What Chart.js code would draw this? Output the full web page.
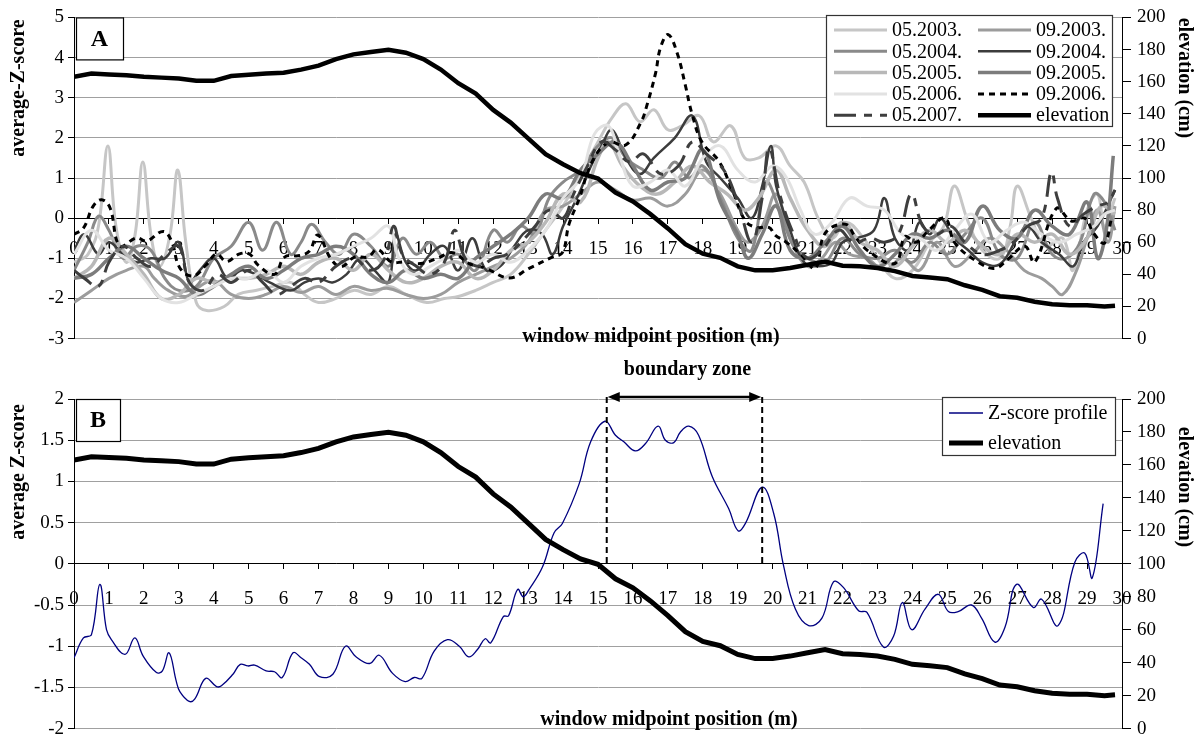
<!DOCTYPE html>
<html>
<head>
<meta charset="utf-8">
<script src="https://cdn.jsdelivr.net/npm/chart.js@4.4.1/dist/chart.umd.min.js"></script>
<style>
html, body { margin: 0; padding: 0; background: #fff; }
#wrap { position: relative; width: 1203px; height: 746px; }
#boxA { position: absolute; left: 0; top: 0; width: 1203px; height: 356px; }
#boxB { position: absolute; left: 0; top: 356px; width: 1203px; height: 390px; }
</style>
</head>
<body>
<div id="wrap">
  <div id="boxA"><canvas id="chartA"></canvas></div>
  <div id="boxB"><canvas id="chartB"></canvas></div>
</div>
<script>
// ---- data ----
const seriesLabels = ["05.2003.", "09.2003.", "05.2004.", "09.2004.", "05.2005.", "09.2005.", "05.2006.", "09.2006.", "05.2007."];

// [position (m), average Z-score]
const may2003 = [[0,-1.1],[0.4,-0.9],[0.7,-0.2],[0.97,1.8],[1.2,-0.2],[1.5,-1.1],[1.75,-0.4],[1.97,1.4],[2.2,-0.4],[2.45,-1.2],[2.75,-0.4],[2.97,1.2],[3.2,-0.6],[3.5,-2.1],[3.8,-2.3],[4.3,-2.2],[4.7,-1.9],[5.2,-1.8],[5.7,-1.7],[6.2,-1.6],[6.6,-1.9],[7.0,-2.1],[7.5,-2.0],[8.0,-1.8],[8.5,-1.9],[9.0,-1.7],[9.5,-1.9],[10.1,-2.1],[10.6,-2.0],[11,-1.95],[11.5,-1.8],[12,-1.6],[12.5,-1.4],[13,-0.9],[13.5,-0.3],[14,0.3],[14.5,1.1],[15,1.9],[15.4,2.5],[15.8,2.85],[16.2,2.4],[16.6,2.7],[17,2.2],[17.4,2.3],[17.9,2.55],[18.3,1.9],[18.8,2.3],[19.2,1.5],[19.6,1.5],[20.1,1.8],[20.5,1.3],[20.9,0.9],[21.3,0.0],[21.7,-0.5],[22.1,-0.1],[22.6,-0.5],[23.0,-1.0],[23.5,-1.5],[24,-1.3],[24.5,-0.6],[24.9,-0.2],[25.2,0.8],[25.6,-0.1],[26,-0.8],[26.5,-1.0],[26.8,-0.2],[27.0,0.8],[27.4,0.0],[27.8,-0.7],[28.3,-0.5],[28.6,-1.3],[29.0,0.2],[29.3,0.6],[29.5,-0.2],[29.8,0.5]];
const sep2003 = [[0,-2.1],[0.5,-1.8],[1,-1.5],[1.5,-1.3],[2,-1.2],[2.3,-1.5],[2.7,-1.8],[3.2,-1.95],[3.6,-1.7],[4,-1.55],[4.5,-1.9],[5,-2.0],[5.5,-1.9],[6,-1.7],[6.5,-1.85],[7,-1.7],[7.5,-1.9],[8,-1.7],[8.5,-1.8],[9,-1.75],[9.5,-1.9],[10,-2.0],[10.5,-1.9],[11,-1.6],[11.5,-1.4],[12,-1.2],[12.5,-1.0],[13,-0.6],[13.5,0.2],[14,0.3],[14.5,0.6],[15,0.9],[15.5,0.7],[16,0.45],[16.5,0.5],[17,0.3],[17.5,0.6],[18,1.2],[18.5,0.6],[19,-0.3],[19.3,-0.6],[19.7,-0.2],[20.1,0.6],[20.5,-0.5],[21,-1.2],[21.4,-1.0],[21.8,-0.6],[22.2,-0.9],[22.7,-1.0],[23.2,-1.3],[23.7,-1.0],[24.2,-1.3],[24.7,-0.6],[25.2,-1.2],[25.7,-0.9],[26.2,-0.5],[26.7,-0.8],[27.2,-1.3],[27.7,-1.5],[28.0,-1.7],[28.3,-1.9],[28.7,-1.3],[29,-0.5],[29.3,0.2],[29.6,-0.6],[29.8,0.3]];
const may2004 = [[0,-1.3],[0.4,-0.6],[0.7,0.05],[1.0,-0.3],[1.4,-1.0],[1.8,-0.7],[2.2,-0.8],[2.6,-1.5],[3,-1.8],[3.5,-1.7],[4,-1.0],[4.5,-0.7],[5,-0.1],[5.4,-0.8],[5.8,-0.1],[6.2,-0.9],[6.5,-0.6],[6.8,-0.15],[7.2,-0.6],[7.6,-0.9],[8,-0.4],[8.5,-0.7],[9,-1.2],[9.4,-0.5],[9.8,-0.9],[10.2,-0.6],[10.6,-1.0],[11,-0.9],[11.5,-1.3],[12,-0.3],[12.4,-0.6],[12.8,-0.2],[13.2,-0.4],[13.6,0.5],[14,0.9],[14.5,1.2],[15,1.8],[15.4,2.0],[15.8,1.5],[16.3,1.2],[16.8,1.0],[17.2,1.4],[17.6,1.0],[18,1.3],[18.5,0.5],[19,-0.5],[19.4,-0.8],[19.8,0.9],[20.2,0.2],[20.6,-0.7],[21,-1.0],[21.5,-1.1],[22,-0.5],[22.5,-0.9],[23,-1.0],[23.5,-0.8],[24,-1.1],[24.5,-0.6],[25,-0.9],[25.5,-0.4],[26,0.0],[26.5,-0.9],[27,-1.0],[27.5,-0.1],[28,-0.9],[28.4,-1.0],[28.8,-0.6],[29.2,0.6],[29.5,0.4],[29.8,-0.3]];
const sep2004 = [[0,-0.8],[0.3,-0.4],[0.7,-0.9],[1,-0.6],[1.4,-0.9],[1.8,-1.1],[2.2,-1.0],[2.6,-1.0],[3,-0.6],[3.3,-1.6],[3.6,-1.3],[4,-1.0],[4.4,-1.5],[4.8,-1.3],[5.2,-1.4],[5.6,-1.6],[6.2,-1.8],[6.6,-1.6],[7,-1.5],[7.4,-1.6],[7.8,-1.4],[8.2,-1.0],[8.6,-1.3],[9.0,-1.6],[9.2,-0.4],[9.5,-1.1],[9.8,-1.3],[10.2,-0.9],[10.6,-0.7],[11,-1.3],[11.4,-0.5],[11.8,-1.3],[12.2,-1.2],[12.6,-0.7],[13.0,-0.3],[13.4,-0.4],[13.7,-0.9],[14,-0.2],[14.4,0.5],[14.8,1.3],[15.1,1.8],[15.4,2.2],[15.8,1.5],[16.2,1.1],[16.6,1.5],[17.2,2.0],[17.7,2.55],[18.1,1.4],[18.5,1.0],[19,0.5],[19.4,0.0],[19.7,0.8],[19.95,1.8],[20.1,0.8],[20.5,-0.3],[20.9,-1.1],[21.3,-1.2],[21.7,-1.1],[22,-0.6],[22.4,-0.5],[22.9,-0.3],[23.2,0.5],[23.5,-0.5],[23.9,-0.8],[24.2,-0.1],[24.5,-0.4],[24.8,0.0],[25.2,-0.5],[25.6,-0.8],[26,-1.1],[26.5,-1.15],[27,-0.5],[27.3,-0.2],[27.7,-0.6],[28.2,-0.9],[28.6,-1.2],[28.9,-0.6],[29.3,-0.2],[29.8,0.7]];
const may2005 = [[0,-1.5],[0.5,-1.2],[1,-0.5],[1.5,-0.9],[2,-1.4],[2.5,-2.0],[3,-1.9],[3.5,-1.5],[4,-1.6],[4.5,-1.5],[5,-1.5],[5.5,-1.4],[6,-1.2],[6.5,-1.4],[7,-1.1],[7.5,-1.0],[8,-1.3],[8.5,-0.9],[9,-1.3],[9.5,-1.6],[10,-1.5],[10.5,-1.2],[11,-1.1],[11.5,-1.5],[12,-1.3],[12.5,-0.8],[13,-0.6],[13.5,-0.1],[14,0.6],[14.5,0.4],[15,1.5],[15.3,1.9],[15.7,1.3],[16.2,0.8],[16.7,0.6],[17.2,0.9],[17.7,1.3],[18.2,0.9],[18.7,0.6],[19.2,0.2],[19.6,0.5],[20.1,1.2],[20.5,0.5],[21,-0.3],[21.5,-0.7],[22,-0.1],[22.5,-0.6],[23,-0.8],[23.5,-1.2],[24,-0.7],[24.5,-0.3],[25,-0.6],[25.5,-0.3],[26,-0.7],[26.5,-0.9],[27,-0.4],[27.5,-0.6],[28,-0.4],[28.5,-0.9],[29,-0.5],[29.4,0.3],[29.8,0.1]];
const sep2005 = [[0,-1.5],[0.5,-1.4],[1,-1.0],[1.5,-0.7],[2,-1.0],[2.5,-1.3],[3,-1.5],[3.5,-1.9],[4,-1.7],[4.5,-1.4],[5,-1.2],[5.5,-1.5],[6,-1.3],[6.5,-1.0],[7,-0.9],[7.5,-0.7],[8,-0.9],[8.5,-1.4],[9,-1.6],[9.5,-1.3],[10,-1.5],[10.5,-1.4],[11,-1.5],[11.5,-1.0],[12,-0.7],[12.5,-0.4],[13,0.0],[13.5,0.6],[14,0.5],[14.5,1.2],[15,1.6],[15.5,1.9],[16,1.3],[16.5,0.7],[17,0.9],[17.5,1.0],[18,1.7],[18.5,0.4],[19,-0.4],[19.3,-1.0],[19.7,-0.4],[20.1,0.3],[20.5,-0.8],[21,-1.0],[21.5,-0.6],[22,-0.2],[22.5,-0.8],[23,-1.2],[23.5,-0.9],[24,-0.4],[24.5,-0.5],[25,-0.3],[25.5,-0.6],[26,0.3],[26.5,-0.3],[27,-0.5],[27.5,0.2],[28,-0.2],[28.5,-0.4],[29,0.4],[29.3,-1.0],[29.55,-0.3],[29.75,1.55]];
const may2006 = [[0,-0.9],[0.5,-0.3],[1,-0.8],[1.5,-1.0],[2,-1.5],[2.5,-2.0],[3,-2.1],[3.5,-1.9],[4,-1.7],[4.5,-1.5],[5,-1.5],[5.5,-1.3],[6,-1.6],[6.5,-1.2],[7,-1.0],[7.5,-0.9],[8,-0.7],[8.5,-0.5],[9,-0.2],[9.3,-1.0],[9.7,-1.4],[10.2,-1.2],[10.6,-1.0],[11,-0.8],[11.5,-1.1],[12,-0.9],[12.5,-1.1],[13,-0.8],[13.5,-0.3],[14,0.5],[14.5,1.0],[14.9,2.1],[15.3,2.3],[15.6,1.6],[16,0.8],[16.5,0.9],[17,1.2],[17.5,0.8],[18,1.5],[18.5,1.8],[19,1.2],[19.5,0.9],[20,1.3],[20.4,1.0],[20.8,0.2],[21.2,-0.4],[21.7,-0.1],[22.2,0.5],[22.7,0.3],[23.2,0.2],[23.7,-0.4],[24.2,-0.5],[24.7,-0.8],[25.2,-0.3],[25.7,0.1],[26.2,-0.6],[26.7,-0.3],[27.2,-0.1],[27.7,-0.4],[28.2,-0.6],[28.7,-0.4],[29.2,-0.2],[29.5,0.1],[29.8,0.2]];
const sep2006 = [[0,-0.4],[0.27,-0.25],[0.55,0.3],[0.79,0.46],[1.03,0.26],[1.31,-0.69],[1.79,-0.49],[2.08,-0.57],[2.55,-0.33],[2.79,-0.57],[3.03,-1.24],[3.41,-1.44],[3.79,-1.16],[4.08,-0.89],[4.36,-1.08],[4.74,-0.89],[5.03,-0.9],[5.27,-1.17],[5.74,-1.4],[6.03,-0.97],[6.46,-0.93],[6.74,-0.82],[6.98,-0.42],[7.36,-1.02],[7.65,-1.21],[8.03,-0.97],[8.41,-0.97],[8.69,-0.78],[9.08,-1.09],[9.46,-1.09],[9.93,-1.13],[10.4,-1.0],[10.84,-0.86],[11.31,-1.13],[11.79,-1.25],[12.46,-1.49],[13.03,-1.25],[13.69,-0.97],[13.98,-0.86],[14.17,-0.15],[14.46,0.48],[14.84,1.42],[15.31,1.89],[15.79,1.82],[16.22,2.37],[16.41,2.84],[16.65,3.62],[16.79,4.25],[17.01,4.57],[17.27,4.1],[17.5,3.31],[17.69,2.6],[17.98,1.89],[18.46,1.42],[18.84,0.71],[19.22,-0.07],[19.55,-0.23],[19.89,-0.23],[20.08,-0.43],[20.36,-0.58],[20.8,-0.9],[21.22,-1.25],[21.5,-0.38],[22.08,-0.15],[22.36,-0.46],[22.74,-0.82],[23.5,-1.13],[23.79,-0.46],[24.1,-0.6],[24.46,-0.31],[24.93,0.0],[25.22,-0.62],[25.89,-1.1],[26.36,-1.25],[26.74,-1.02],[27.22,-0.7],[27.5,-1.1],[28.12,0.24],[28.55,-0.07],[28.93,0.0],[29.2,-0.39],[29.5,-0.62],[29.7,0.0]];
const may2007 = [[0,-1.3],[0.3,-1.5],[0.7,-1.7],[1.0,-1.1],[1.4,-0.7],[1.8,-1.0],[2.2,-1.2],[2.6,-0.9],[3,-0.7],[3.3,-1.6],[3.7,-1.8],[4.1,-1.4],[4.5,-1.6],[5,-1.3],[5.4,-1.6],[5.8,-1.9],[6.2,-1.7],[6.6,-1.5],[7,-1.6],[7.5,-1.2],[8,-1.0],[8.5,-1.3],[8.9,-1.0],[9.15,-0.2],[9.4,-0.9],[9.8,-1.2],[10.2,-1.4],[10.6,-1.1],[10.9,-0.3],[11.2,-1.0],[11.6,-1.2],[12,-1.0],[12.4,-0.9],[12.8,-0.6],[13.2,-0.2],[13.6,0.2],[14,0.0],[14.3,0.6],[14.7,1.3],[15.1,1.9],[15.5,1.7],[15.9,1.4],[16.3,1.6],[16.8,1.1],[17.3,1.3],[17.7,1.9],[18.1,1.6],[18.6,1.2],[19,0.4],[19.4,-0.6],[19.7,0.5],[19.9,1.75],[20.2,0.6],[20.6,-0.4],[21,-1.0],[21.4,-0.8],[21.9,-0.3],[22.3,-0.6],[22.8,-0.5],[23.2,-0.6],[23.6,-0.4],[23.97,0.6],[24.3,-0.2],[24.7,-0.4],[25.1,-0.2],[25.5,-0.6],[26,-0.9],[26.5,-0.8],[26.9,-0.6],[27.3,-0.2],[27.7,0.0],[27.98,1.15],[28.15,0.5],[28.5,-0.2],[28.9,0.1],[29.3,0.3],[29.6,0.4],[29.8,0.7]];

// elevation (cm) along the transect
const elevPos = [0,0.5,1,1.5,2,2.5,3,3.5,4,4.5,5,5.5,6,6.5,7,7.5,8,8.5,9,9.5,10,10.5,11,11.5,12,12.5,13,13.5,14,14.5,15,15.5,16,16.5,17,17.5,18,18.5,19,19.5,20,20.5,21,21.5,22,22.5,23,23.5,24,24.5,25,25.5,26,26.5,27,27.5,28,28.5,29,29.5,29.8];
const elevation = [163,165,164.5,164,163,162.5,162,160.5,160.5,163.5,164.3,165,165.6,167.5,170,174,177,178.5,179.8,178,174,167.5,159,152.6,142.4,134.5,124.7,114.8,108.6,103,99.7,90.9,85.4,77.5,68.6,58.8,52.9,50.3,45,42.5,42.5,44,46,48,45.4,45,44,42,39,38.1,37,33.2,30.3,26.4,25.4,23,21.4,20.8,20.8,20,20.5];

// panel B: averaged Z-score profile
const profile = [[0,-1.14],[0.27,-0.9],[0.5,-0.86],[0.74,-0.25],[0.93,-0.8],[1.07,-0.92],[1.46,-1.1],[1.74,-0.9],[1.98,-1.12],[2.36,-1.32],[2.53,-1.3],[2.72,-1.08],[2.93,-1.43],[3.03,-1.55],[3.3,-1.67],[3.46,-1.64],[3.77,-1.39],[4.08,-1.49],[4.22,-1.48],[4.55,-1.34],[4.76,-1.22],[4.98,-1.24],[5.17,-1.23],[5.5,-1.3],[5.74,-1.31],[5.96,-1.38],[6.27,-1.08],[6.5,-1.14],[6.74,-1.22],[7.03,-1.37],[7.41,-1.34],[7.77,-1.0],[8.08,-1.13],[8.46,-1.21],[8.74,-1.11],[9.12,-1.33],[9.48,-1.43],[9.74,-1.38],[9.96,-1.39],[10.31,-1.06],[10.69,-0.92],[11.03,-1.0],[11.3,-1.13],[11.55,-1.04],[11.77,-0.91],[11.93,-0.96],[12.29,-0.64],[12.44,-0.63],[12.7,-0.31],[12.86,-0.4],[13.03,-0.31],[13.41,-0.04],[13.74,0.375],[13.98,0.49],[14.46,0.97],[14.79,1.48],[15.2,1.73],[15.5,1.56],[15.74,1.48],[16.07,1.37],[16.36,1.46],[16.72,1.67],[16.93,1.5],[17.17,1.47],[17.36,1.6],[17.6,1.67],[17.88,1.56],[18.27,1.06],[18.74,0.67],[19.01,0.4],[19.22,0.49],[19.7,0.93],[20.03,0.61],[20.31,-0.02],[20.65,-0.55],[21.03,-0.75],[21.41,-0.66],[21.74,-0.22],[22.03,-0.29],[22.46,-0.57],[22.7,-0.59],[23.17,-1.01],[23.46,-0.88],[23.71,-0.47],[23.98,-0.8],[24.36,-0.55],[24.74,-0.37],[25.03,-0.58],[25.31,-0.58],[25.69,-0.5],[25.98,-0.66],[26.36,-0.95],[26.65,-0.77],[26.98,-0.25],[27.46,-0.53],[27.7,-0.43],[28.17,-0.75],[28.65,0.02],[28.93,0.13],[29.15,-0.17],[29.46,0.73]];

const boundaryZone = [15.25, 19.7];

// ---- styles ----
const FONT = "'Liberation Serif', 'Times New Roman', serif";
Chart.defaults.font.family = FONT;
Chart.defaults.font.size = 19;
Chart.defaults.color = '#000';

const styleA = [
  { color: '#c6c6c6', width: 3, dash: [] },
  { color: '#9c9c9c', width: 3, dash: [] },
  { color: '#8a8a8a', width: 3, dash: [] },
  { color: '#3c3c3c', width: 2.5, dash: [] },
  { color: '#b8b8b8', width: 3.5, dash: [] },
  { color: '#7c7c7c', width: 3.5, dash: [] },
  { color: '#e2e2e2', width: 3, dash: [] },
  { color: '#000000', width: 3, dash: [6, 5] },
  { color: '#3e3e3e', width: 3, dash: [22, 8, 8, 8] }
];

const toXY = arr => arr.map(p => ({ x: p[0], y: p[1] }));
const elevXY = elevPos.map((x, i) => ({ x: x, y: elevation[i] }));

function lineSet(label, data, st, axis, order, tension) {
  return {
    label: label, data: data, yAxisID: axis, order: order,
    borderColor: st.color, borderWidth: st.width, borderDash: st.dash,
    pointRadius: 0, fill: false, tension: tension
  };
}

// ---- decoration plugin (panel letter, legend, titles, boundary zone) ----
function decor(opts) {
  return {
    id: 'decor' + opts.letter,
    afterDraw(chart) {
      const ctx = chart.ctx, a = chart.chartArea;
      ctx.save();
      // panel letter box
      ctx.fillStyle = '#fff';
      ctx.fillRect(a.left + 2, a.top, opts.letterBox[0], opts.letterBox[1]);
      ctx.strokeStyle = '#000'; ctx.lineWidth = 1.2; ctx.setLineDash([]);
      ctx.strokeRect(a.left + 2.5, a.top + 0.5, opts.letterBox[0], opts.letterBox[1]);
      ctx.fillStyle = '#000';
      ctx.font = 'bold 24px ' + FONT;
      ctx.textAlign = 'center'; ctx.textBaseline = 'middle';
      ctx.fillText(opts.letter, a.left + 2 + opts.letterBox[0] / 2, a.top + opts.letterBox[1] / 2 + 1);

      // legend
      const L = opts.legend;
      ctx.fillStyle = '#fff';
      ctx.fillRect(L.x, L.y, L.w, L.h);
      ctx.strokeStyle = '#333'; ctx.lineWidth = 1.2;
      ctx.strokeRect(L.x + 0.5, L.y + 0.5, L.w, L.h);
      ctx.font = '20px ' + FONT;
      ctx.textAlign = 'left'; ctx.textBaseline = 'middle';
      chart.data.datasets.forEach((ds, i) => {
        const col = L.cols ? i % L.cols : 0;
        const row = L.cols ? Math.floor(i / L.cols) : i;
        const lx = L.x + L.colX[col], ly = L.y + L.rowY0 + row * L.rowH;
        ctx.strokeStyle = ds.borderColor;
        ctx.lineWidth = ds.borderWidth;
        ctx.setLineDash(ds.borderDash || []);
        ctx.beginPath(); ctx.moveTo(lx, ly); ctx.lineTo(lx + L.lineLen, ly); ctx.stroke();
        ctx.setLineDash([]);
        ctx.fillStyle = '#000';
        ctx.fillText(ds.label, lx + L.lineLen + 5, ly + 1);
      });

      // axis titles
      ctx.font = 'bold 20px ' + FONT;
      ctx.fillStyle = '#000';
      ctx.textAlign = 'center'; ctx.textBaseline = 'middle';
      ctx.save(); ctx.translate(19, opts.leftTitleY); ctx.rotate(-Math.PI / 2);
      ctx.fillText(opts.leftTitle, 0, 0); ctx.restore();
      ctx.save(); ctx.translate(1184, opts.rightTitleY); ctx.rotate(Math.PI / 2);
      ctx.fillText('elevation (cm)', 0, 0); ctx.restore();
      ctx.fillText('window midpoint position (m)', opts.xTitle[0], opts.xTitle[1]);

      // boundary zone
      if (opts.zone) {
        const xs = chart.scales.x, ys = chart.scales.y;
        const x1 = xs.getPixelForValue(opts.zone[0]), x2 = xs.getPixelForValue(opts.zone[1]);
        const yTop = a.top - 2, y0 = ys.getPixelForValue(0);
        ctx.strokeStyle = '#000'; ctx.lineWidth = 2;
        ctx.setLineDash([6, 4]);
        ctx.beginPath();
        ctx.moveTo(x1, yTop); ctx.lineTo(x1, y0);
        ctx.moveTo(x2, yTop); ctx.lineTo(x2, y0);
        ctx.stroke();
        ctx.setLineDash([]);
        ctx.lineWidth = 2.5;
        ctx.beginPath(); ctx.moveTo(x1 + 8, yTop); ctx.lineTo(x2 - 8, yTop); ctx.stroke();
        ctx.fillStyle = '#000';
        ctx.beginPath(); ctx.moveTo(x1 + 1, yTop); ctx.lineTo(x1 + 13, yTop - 5); ctx.lineTo(x1 + 13, yTop + 5); ctx.closePath(); ctx.fill();
        ctx.beginPath(); ctx.moveTo(x2 - 1, yTop); ctx.lineTo(x2 - 13, yTop - 5); ctx.lineTo(x2 - 13, yTop + 5); ctx.closePath(); ctx.fill();
        ctx.font = 'bold 20px ' + FONT;
        ctx.textAlign = 'center'; ctx.textBaseline = 'middle';
        ctx.fillText('boundary zone', (x1 + x2) / 2 + 3, yTop - 27);
      }
      ctx.restore();
    }
  };
}

function scalesFor(zMin, zMax, zStep, labelPad) {
  return {
    x: {
      type: 'linear', min: 0, max: 30, position: { y: 0 },
      afterFit: s => { s.height = 0; },
      ticks: { stepSize: 1, autoSkip: false, maxRotation: 0, padding: labelPad, color: '#000' },
      grid: { drawOnChartArea: false, drawTicks: true, tickLength: 5, color: '#000' },
      border: { color: '#000', width: 1 }
    },
    y: {
      type: 'linear', position: 'left', min: zMin, max: zMax,
      afterFit: s => { s.width = 74; },
      ticks: { stepSize: zStep, padding: 4, color: '#000', callback: v => String(v) },
      grid: { color: '#a0a0a0', lineWidth: 1, tickLength: 6, tickColor: '#000' },
      border: { color: '#000', width: 1 }
    },
    y2: {
      type: 'linear', position: 'right', min: 0, max: 200,
      afterFit: s => { s.width = 81; },
      ticks: { stepSize: 20, padding: 6, color: '#000' },
      grid: { drawOnChartArea: false, tickLength: 9, color: '#000' },
      border: { color: '#000', width: 1 }
    }
  };
}

// ---- panel A ----
const seriesA = [may2003, sep2003, may2004, sep2004, may2005, sep2005, may2006, sep2006, may2007];
const dsA = seriesA.map((s, i) => lineSet(seriesLabels[i], toXY(s), styleA[i], 'y', 10 - i, 0.4));
dsA.push(lineSet('elevation', elevXY, { color: '#000', width: 4.5, dash: [] }, 'y2', 0, 0));

new Chart(document.getElementById('chartA'), {
  type: 'line',
  data: { datasets: dsA },
  options: {
    responsive: true, maintainAspectRatio: false, animation: false,
    layout: { padding: { top: 15, bottom: 2, left: 0, right: 0 } },
    plugins: { legend: { display: false }, tooltip: { enabled: false } },
    scales: scalesFor(-3, 5, 1, 14)
  },
  plugins: [decor({
    letter: 'A', letterBox: [47, 42],
    legend: { x: 826, y: 15, w: 286, h: 111, cols: 2, colX: [8, 152], rowY0: 15, rowH: 21.3, lineLen: 53 },
    leftTitle: 'average-Z-score', leftTitleY: 88, rightTitleY: 78,
    xTitle: [651, 337]
  })]
});

// ---- panel B ----
const dsB = [
  lineSet('Z-score profile', toXY(profile), { color: '#000080', width: 1.3, dash: [] }, 'y', 1, 0.4),
  lineSet('elevation', elevXY, { color: '#000', width: 5, dash: [] }, 'y2', 0, 0)
];

new Chart(document.getElementById('chartB'), {
  type: 'line',
  data: { datasets: dsB },
  options: {
    responsive: true, maintainAspectRatio: false, animation: false,
    layout: { padding: { top: 43, bottom: 8, left: 0, right: 0 } },
    plugins: { legend: { display: false }, tooltip: { enabled: false } },
    scales: scalesFor(-2, 2, 0.5, 19)
  },
  plugins: [decor({
    letter: 'B', letterBox: [44, 42],
    legend: { x: 942, y: 41, w: 173, h: 58, cols: 0, colX: [7], rowY0: 16, rowH: 30, lineLen: 34 },
    leftTitle: 'average Z-score', leftTitleY: 116, rightTitleY: 131,
    xTitle: [669, 364],
    zone: boundaryZone
  })]
});
</script>
</body>
</html>
